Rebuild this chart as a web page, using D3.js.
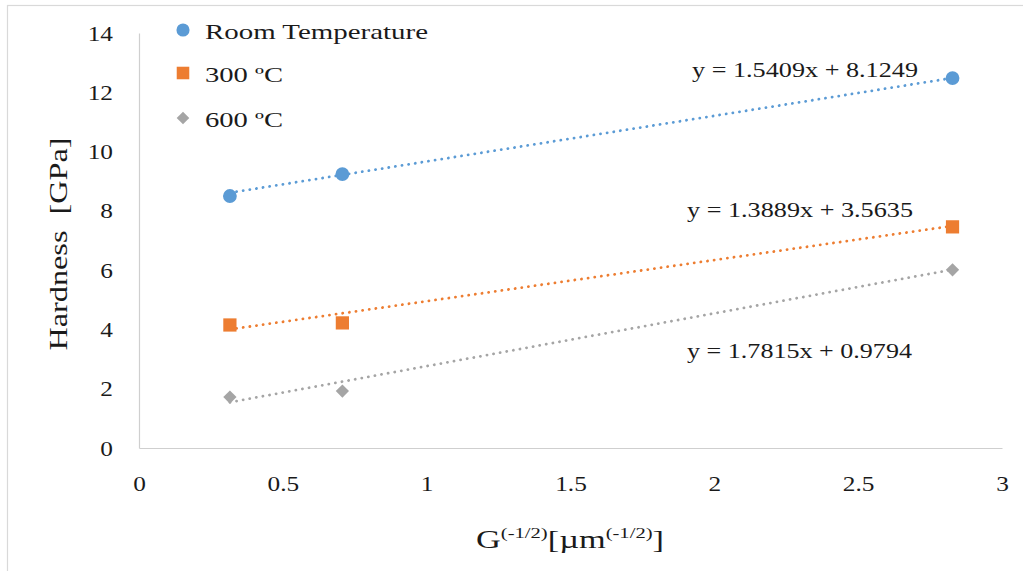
<!DOCTYPE html>
<html>
<head>
<meta charset="utf-8">
<script src="https://cdn.jsdelivr.net/npm/d3@7"></script>
<style>
  html, body { margin: 0; padding: 0; background: #fff; }
  svg { display: block; }
  text { font-family: "Liberation Serif", "Times New Roman", serif; fill: #1a1a1a; }
</style>
</head>
<body>
<svg id="chart" width="1023" height="571"></svg>
<script>
// Inverse square-root grain size, G^(-1/2)
const grainX = [0.316, 0.707, 2.828];

// Measured hardness (GPa) per test temperature
const roomTemp = [8.50, 9.24, 12.48];
const temp300 = [4.15, 4.22, 7.46];
const temp600 = [1.72, 1.92, 6.01];

// Linear fit coefficients [slope, intercept]
const fitRoom = [1.5409, 8.1249];
const fit300 = [1.3889, 3.5635];
const fit600 = [1.7815, 0.9794];

const seriesNames = ["Room Temperature", "300 ºC", "600 ºC"];
const xTicks = [0, 0.5, 1, 1.5, 2, 2.5, 3];
const yTicks = [0, 2, 4, 6, 8, 10, 12, 14];

const colors = ["#5b9bd5", "#ed7d31", "#a5a5a5"];
// circle, square, and a square turned 45° for the diamond
const symbols = [d3.symbolCircle, d3.symbolSquare, d3.symbolSquare];
const symbolSizes = [150, 175, 88];
const symbolRotation = [0, 0, 45];

const series = [
  { name: seriesNames[0], values: roomTemp, fit: fitRoom },
  { name: seriesNames[1], values: temp300, fit: fit300 },
  { name: seriesNames[2], values: temp600, fit: fit600 }
];

const svg = d3.select("#chart");

// chart area frame
svg.append("rect")
  .attr("x", 7.5).attr("y", 5.5)
  .attr("width", 1040).attr("height", 600)
  .attr("fill", "none").attr("stroke", "#d9d9d9").attr("stroke-width", 1.2);

const x = d3.scaleLinear().domain([0, 3]).range([139, 1002]);
const y = d3.scaleLinear().domain([0, 14]).range([448, 33]);

// axes
const xAxis = svg.append("g").attr("transform", `translate(0,${y(0)})`)
  .call(d3.axisBottom(x).tickValues(xTicks).tickSize(0).tickPadding(27)
    .tickFormat(d => String(d)));
const yAxis = svg.append("g").attr("transform", `translate(${x(0)},0)`)
  .call(d3.axisLeft(y).tickValues(yTicks).tickSize(0).tickPadding(26)
    .tickFormat(d => String(d)));

[xAxis, yAxis].forEach(g => {
  g.select(".domain").attr("stroke", "#cfcfcf").attr("stroke-width", 1.2);
  g.selectAll("text")
    .style("font-family", '"Liberation Serif", "Times New Roman", serif')
    .style("font-size", "22px")
    .attr("fill", "#1a1a1a")
    .each(function () {
      // slightly wider glyphs, as in the Times rendering of the source sheet
      const w = this.getComputedTextLength();
      d3.select(this).attr("textLength", w * 1.15).attr("lengthAdjust", "spacingAndGlyphs");
    });
});

// trend lines drawn from the fitted equations
const xMin = d3.min(grainX), xMax = d3.max(grainX);
series.forEach((s, i) => {
  svg.append("line")
    .attr("x1", x(xMin)).attr("y1", y(s.fit[0] * xMin + s.fit[1]))
    .attr("x2", x(xMax)).attr("y2", y(s.fit[0] * xMax + s.fit[1]))
    .attr("stroke", colors[i]).attr("stroke-width", 2.8)
    .attr("stroke-linecap", "round")
    .attr("stroke-dasharray", "0.1 6.6");
});

// data markers
series.forEach((s, i) => {
  svg.append("g").selectAll("path")
    .data(s.values.map((v, k) => [grainX[k], v]))
    .join("path")
    .attr("transform", d => `translate(${x(d[0])},${y(d[1])}) rotate(${symbolRotation[i]})`)
    .attr("d", d3.symbol().type(symbols[i]).size(symbolSizes[i]))
    .attr("fill", colors[i]);
});

// equation labels
const eqLabels = [
  { text: "y = 1.5409x + 8.1249", x: 692, y: 77, len: 226 },
  { text: "y = 1.3889x + 3.5635", x: 687, y: 217, len: 226 },
  { text: "y = 1.7815x + 0.9794", x: 687, y: 358, len: 225 }
];
svg.append("g").selectAll("text")
  .data(eqLabels).join("text")
  .attr("x", d => d.x).attr("y", d => d.y)
  .attr("textLength", d => d.len).attr("lengthAdjust", "spacingAndGlyphs")
  .style("font-size", "22px")
  .text(d => d.text);

// legend
const legendRows = [
  { y: 30, len: 223 },
  { y: 73, len: 78 },
  { y: 118, len: 78 }
];
const legend = svg.append("g");
series.forEach((s, i) => {
  legend.append("path")
    .attr("transform", `translate(183,${legendRows[i].y}) rotate(${symbolRotation[i]})`)
    .attr("d", d3.symbol().type(symbols[i]).size(symbolSizes[i] * 0.9))
    .attr("fill", colors[i]);
  legend.append("text")
    .attr("x", 205).attr("y", legendRows[i].y + 9)
    .attr("textLength", legendRows[i].len).attr("lengthAdjust", "spacingAndGlyphs")
    .style("font-size", "22px")
    .text(s.name);
});

// axis titles
svg.append("text")
  .attr("transform", "translate(67,244) rotate(-90)")
  .attr("text-anchor", "middle")
  .attr("textLength", 213).attr("lengthAdjust", "spacingAndGlyphs")
  .style("font-size", "25px")
  .style("white-space", "pre")
  .text("Hardness  [GPa]");

const xt = svg.append("text")
  .attr("x", 476).attr("y", 548)
  .attr("textLength", 188).attr("lengthAdjust", "spacingAndGlyphs")
  .style("font-size", "25px");
xt.append("tspan").text("G");
xt.append("tspan").attr("dy", -10).style("font-size", "15px").text("(-1/2)");
xt.append("tspan").attr("dy", 10).text("[µm");
xt.append("tspan").attr("dy", -10).style("font-size", "15px").text("(-1/2)");
xt.append("tspan").attr("dy", 10).text("]");
</script>
</body>
</html>
